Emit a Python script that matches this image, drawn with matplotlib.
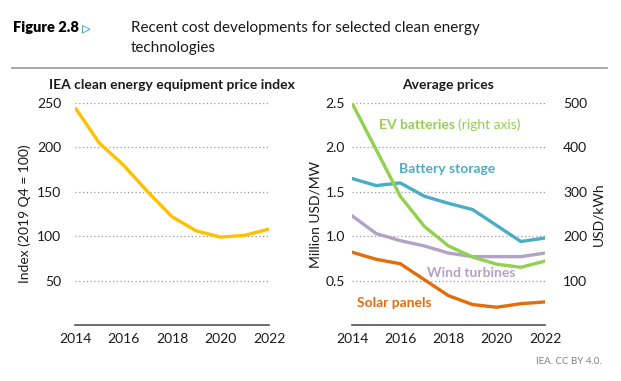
import matplotlib
matplotlib.use("Agg")
import matplotlib.pyplot as plt

# data
years = [2014, 2015, 2016, 2017, 2018, 2019, 2020, 2021, 2022]
price_index = [245, 205, 180, 150, 122, 106, 99, 101, 108]
battery_storage = [1.65, 1.57, 1.60, 1.45, 1.37, 1.30, 1.12, 0.94, 0.98]   # Million USD/MW
wind_turbines = [1.23, 1.03, 0.95, 0.89, 0.81, 0.77, 0.77, 0.77, 0.81]     # Million USD/MW
solar_panels = [0.82, 0.74, 0.69, 0.51, 0.33, 0.23, 0.20, 0.24, 0.26]      # Million USD/MW
ev_batteries = [500, 395, 290, 222, 178, 153, 137, 130, 144]               # USD/kWh

xticks = [2014, 2016, 2018, 2020, 2022]

YEL = "#FFC000"; GRN = "#92D050"; BLU = "#4BACC6"; LAV = "#B3A2C7"; ORG = "#E46C0A"
TXT = "#1a1a1a"; GRID = "#9a9a9a"; AXL = "#555555"
FONT = "Lato"

plt.rcParams["font.family"] = [FONT, "DejaVu Sans"]

W, H = 621, 381
fig = plt.figure(figsize=(W / 100, H / 100), dpi=100)


def px(x0, y0, x1, y1):
    return [x0 / W, 1 - y1 / H, (x1 - x0) / W, (y1 - y0) / H]


def style(ax, yticks):
    for s in ["top", "right", "left"]:
        ax.spines[s].set_visible(False)
    ax.spines["bottom"].set_color(AXL)
    ax.spines["bottom"].set_linewidth(1.2)
    ax.set_xlim(2014, 2022)
    ax.set_xticks(xticks)
    ax.set_yticks(yticks)
    ax.tick_params(length=0, labelsize=10, colors=TXT)
    ax.tick_params(axis="x", pad=6)
    for v in yticks:
        ax.axhline(v, color=GRID, ls=(0, (1, 2)), lw=0.9, zorder=0)


# header
fig.text(13 / W, 1 - 28 / H, "Figure 2.8", fontsize=10.5, fontweight="heavy", color="black",
         va="center", ha="left")
fig.text(82 / W, 1 - 28 / H, "\u25B9", fontsize=13, color=BLU, va="center", ha="left",
         family="DejaVu Sans")
fig.text(131 / W, 1 - 28 / H, "Recent cost developments for selected clean energy",
         fontsize=11, color=TXT, va="center", ha="left")
fig.text(131 / W, 1 - 48 / H, "technologies", fontsize=11, color=TXT, va="center", ha="left")
fig.add_artist(plt.Line2D([12 / W, 607 / W], [1 - 68 / H, 1 - 68 / H], color="#999999", lw=1.2))

# left panel: price index
a = fig.add_axes(px(75, 103, 269, 325))
style(a, [50, 100, 150, 200, 250])
a.set_ylim(0, 250)
a.plot(years, price_index, color=YEL, lw=2.4, solid_capstyle="butt")
a.tick_params(axis="y", pad=10)
a.set_ylabel("Index (2019 Q4 = 100)", fontsize=10, color=TXT, labelpad=4)
a.set_title("IEA clean energy equipment price index", fontsize=10, fontweight="bold",
            color=TXT, pad=10)

# right panel: average prices
b = fig.add_axes(px(352, 103, 545, 325))
style(b, [0.5, 1.0, 1.5, 2.0, 2.5])
b.set_ylim(0, 2.5)
b.set_yticklabels(["0.5", "1.0", "1.5", "2.0", "2.5"])
b.tick_params(axis="y", pad=5)
b.plot(years, battery_storage, color=BLU, lw=2.4)
b.plot(years, wind_turbines, color=LAV, lw=2.4)
b.plot(years, solar_panels, color=ORG, lw=2.4)
b.set_ylabel("Million USD/MW", fontsize=10, color=TXT, labelpad=3)
b.set_title("Average prices", fontsize=10, fontweight="bold", color=TXT, pad=10)

b2 = b.twinx()
b2.set_ylim(0, 500)
b2.set_yticks([100, 200, 300, 400, 500])
for s in b2.spines.values():
    s.set_visible(False)
b2.tick_params(length=0, labelsize=10, colors=TXT, pad=13)
b2.plot(years, ev_batteries, color=GRN, lw=2.4)
b2.set_ylabel("USD/kWh", fontsize=10, color=TXT, labelpad=4)

# series labels
t = b2.text(2015.12, 450, "EV batteries ", fontsize=10, fontweight="bold", color=GRN,
            va="center", ha="left")
fig.canvas.draw()
bb = t.get_window_extent()
fig.text(bb.x1 / W, (bb.y0 + bb.height / 2) / H, "(right axis)", fontsize=10, color=GRN,
         va="center", ha="left")
b2.text(2015.95, 352, "Battery storage", fontsize=10, fontweight="bold", color=BLU,
        va="center", ha="left")
b2.text(2017.1, 117, "Wind turbines", fontsize=10, fontweight="bold", color=LAV,
        va="center", ha="left")
b2.text(2014.2, 50, "Solar panels", fontsize=10, fontweight="bold", color=ORG,
        va="center", ha="left")

fig.text(602 / W, 1 - 362 / H, "IEA. CC BY 4.0.", fontsize=7, color="#808080",
         ha="right", va="center")

fig.savefig("out.png", dpi=100)
